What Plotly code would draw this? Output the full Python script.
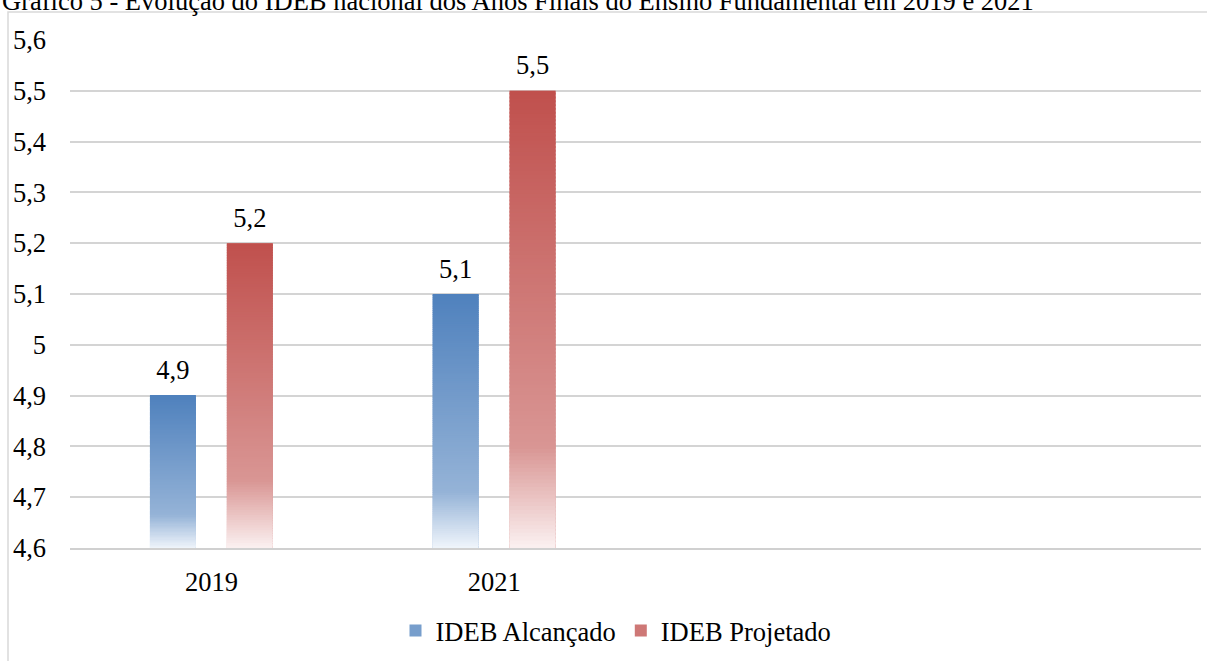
import plotly.graph_objects as go

# Data
years = ["2019", "2021"]
alcancado = [4.9, 5.1]
projetado = [5.2, 5.5]
series_names = ["IDEB Alcançado", "IDEB Projetado"]
axis_min = 4.6
axis_max = 5.6

# Vertical gradient stops (0 = top of bar, 1 = bottom)
blue_stops = [(0.0, (79, 129, 189)), (0.78, (149, 179, 215)), (1.0, (240, 245, 251))]
red_stops = [(0.0, (192, 80, 77)), (0.78, (217, 150, 148)), (1.0, (251, 241, 241))]

FONT = "Liberation Serif"
FS = 26.5
N_SEG = 120
GAP = 0.456


def shade(stops, t):
    for (t0, c0), (t1, c1) in zip(stops[:-1], stops[1:]):
        if t0 <= t <= t1:
            f = (t - t0) / (t1 - t0)
            rgb = [round(a + (b - a) * f) for a, b in zip(c0, c1)]
            return "rgb({},{},{})".format(*rgb)
    return "rgb({},{},{})".format(*stops[-1][1])


fig = go.Figure()

series = [
    (series_names[0], alcancado, blue_stops, "alc"),
    (series_names[1], projetado, red_stops, "proj"),
]

# Full bars: carry the legend entries
for name, vals, stops, grp in series:
    fig.add_trace(go.Bar(
        x=years, y=vals, name=name, offsetgroup=grp,
        marker=dict(color=shade(stops, 0.45), line=dict(width=0)),
    ))

# Gradient fill: thin stacked slices from the axis minimum up to each value
for name, vals, stops, grp in series:
    heights = [v - axis_min for v in vals]
    for i in range(N_SEG):
        t = 1 - (i + 0.5) / N_SEG
        fig.add_trace(go.Bar(
            x=years,
            base=[axis_min + h * i / N_SEG for h in heights],
            y=[h / N_SEG * (1.5 if i < N_SEG - 1 else 1.0) for h in heights],
            offsetgroup=grp, showlegend=False, hoverinfo="skip",
            marker=dict(color=shade(stops, t), line=dict(width=0)),
        ))

# Value labels above each bar
for name, vals, stops, grp in series:
    fig.add_trace(go.Scatter(
        x=years, y=vals, mode="markers+text", offsetgroup=grp,
        texttemplate="%{y:.1f}", textposition="top center",
        textfont=dict(family=FONT, size=FS, color="#000000"),
        marker=dict(size=14, color="rgba(0,0,0,0)"),
        showlegend=False, hoverinfo="skip", cliponaxis=False,
    ))

W, H = 1207, 661
ml, mr, mt, mb = 70, 6, 40, 111
pw, ph = W - ml - mr, H - mt - mb


def px_x(p):
    return (p - ml) / pw


def px_y(p):
    return 1 - (p - mt) / ph


fig.update_layout(
    width=W, height=H,
    margin=dict(l=ml, r=mr, t=mt, b=mb),
    paper_bgcolor="white", plot_bgcolor="white",
    separators=",.",
    barmode="group", bargap=GAP, bargroupgap=0.403,
    scattermode="group", scattergap=GAP,
    font=dict(family=FONT, size=FS, color="#000000"),
    showlegend=True,
    legend=dict(orientation="h", x=px_x(616), xanchor="center",
                y=px_y(633), yanchor="middle",
                font=dict(family=FONT, size=FS, color="#000000"),
                itemwidth=30, tracegroupgap=0),
    xaxis=dict(type="category", range=[-0.5, 3.5], showgrid=False,
               showline=True, linecolor="#D0D0D0", linewidth=2,
               ticks="", ticklabelstandoff=9,
               tickfont=dict(family=FONT, size=FS, color="#000000")),
    yaxis=dict(range=[axis_min, axis_max], dtick=0.1, tick0=axis_min,
               showgrid=True, gridcolor="#D4D4D4", gridwidth=2,
               zeroline=False, showline=False, ticks="",
               ticklabelstandoff=23,
               tickfont=dict(family=FONT, size=FS, color="#000000")),
    shapes=[dict(type="rect", xref="paper", yref="paper",
                 x0=px_x(8), x1=px_x(W + 10), y0=px_y(H + 10), y1=px_y(12),
                 line=dict(color="#D9D9D9", width=1.5), layer="below")],
    annotations=[dict(
        text="Gráfico 5 - Evolução do IDEB nacional dos Anos Finais do Ensino Fundamental em 2019 e 2021",
        xref="paper", yref="paper", x=px_x(0), y=px_y(1), xanchor="left", yanchor="middle",
        showarrow=False, font=dict(family=FONT, size=FS, color="#000000"))],
)

fig.write_html("out.html")
